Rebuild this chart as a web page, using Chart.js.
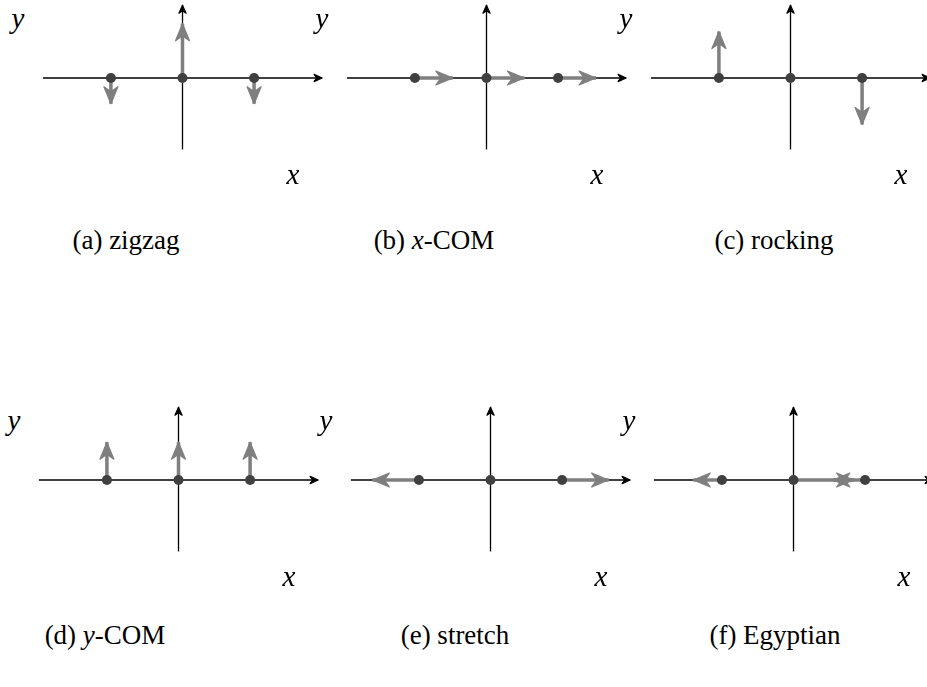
<!DOCTYPE html>
<html>
<head>
<meta charset="utf-8">
<script src="https://cdn.jsdelivr.net/npm/chart.js@4"></script>
<style>
  html, body { margin: 0; padding: 0; background: #fff; }
  body { width: 927px; height: 687px; position: relative; overflow: hidden; font-family: "Liberation Serif", serif; }
  canvas { position: absolute; }
  .lbl { position: absolute; font-style: italic; font-size: 29px; color: #000; transform: translate(-50%, -50%); line-height: 1; }
  .cap { position: absolute; font-size: 27px; color: #000; transform: translate(-50%, -50%); white-space: nowrap; line-height: 1; }
</style>
</head>
<body>
<script>
// masses sit at x = -1, 0, 1 on every panel
const dotX = [-1, 0, 1];
const axisX = [-1.95, 1.95];
const axisY = [-1.0, 1.02];

// displacement of each mass (dx, dy); null = no arrow
const zigzagDx   = [0, 0, 0];
const zigzagDy   = [-0.36, 0.76, -0.36];
const xcomDx     = [0.53, 0.53, 0.53];
const xcomDy     = [0, 0, 0];
const rockingDx  = [0, null, 0];
const rockingDy  = [0.65, null, -0.65];
const ycomDx     = [0, 0, 0];
const ycomDy     = [0.53, 0.53, 0.53];
const stretchDx  = [-0.65, null, 0.65];
const stretchDy  = [0, null, 0];
const egyptDx    = [-0.4, 0.84, -0.45];
const egyptDy    = [0, 0, 0];

const captions = ['(a) zigzag', '(b) <i>x</i>-COM', '(c) rocking', '(d) <i>y</i>-COM', '(e) stretch', '(f) Egyptian'];

const panels = [
  { dx: zigzagDx, dy: zigzagDy },
  { dx: xcomDx, dy: xcomDy },
  { dx: rockingDx, dy: rockingDy },
  { dx: ycomDx, dy: ycomDy },
  { dx: stretchDx, dy: stretchDy },
  { dx: egyptDx, dy: egyptDy }
];

// layout (pixels)
const origins = [[182, 78], [486, 78], [790, 78], [178, 480], [490, 480], [793, 480]];
const capPos = [[126, 240], [434, 240], [774, 240], [105, 635], [455, 635], [775, 635]];
const W = 315, H = 160, XR = 2.2, YR = 1.12;

const GRAY = '#7f7f7f', DOT = '#404040';

function head(ctx, from, to, L, hw, notch, color) {
  const ang = Math.atan2(to.y - from.y, to.x - from.x);
  ctx.save();
  ctx.translate(to.x, to.y);
  ctx.rotate(ang);
  ctx.beginPath();
  ctx.moveTo(0, 0);
  ctx.lineTo(-L, hw);
  ctx.lineTo(-L + notch, 0);
  ctx.lineTo(-L, -hw);
  ctx.closePath();
  ctx.fillStyle = color;
  ctx.strokeStyle = color;
  ctx.lineJoin = 'round';
  ctx.lineWidth = 1.2;
  ctx.fill();
  ctx.stroke();
  ctx.restore();
}

const arrowHeads = {
  id: 'arrowHeads',
  afterDatasetDraw(chart, args) {
    const ds = chart.data.datasets[args.index];
    if (!ds.head) return;
    const pts = args.meta.data;
    const a = pts[pts.length - 2], b = pts[pts.length - 1];
    if (ds.head === 'axis') head(chart.ctx, a, b, 8, 3.6, 2.5, '#000');
    else head(chart.ctx, a, b, 17, 7, 5, GRAY);
  }
};

panels.forEach((p, k) => {
  const [ox, oy] = origins[k];
  const cv = document.createElement('canvas');
  cv.width = W; cv.height = H;
  cv.style.left = (ox - W / 2) + 'px';
  cv.style.top = (oy - H / 2) + 'px';
  document.body.appendChild(cv);

  const datasets = [];
  datasets.push({
    data: dotX.map(x => ({ x, y: 0 })),
    pointRadius: 5, pointBackgroundColor: DOT, pointBorderWidth: 0, showLine: false
  });
  dotX.forEach((x, i) => {
    if (p.dx[i] === null) return;
    datasets.push({
      data: [{ x, y: 0 }, { x: x + p.dx[i], y: p.dy[i] }],
      showLine: true, borderColor: GRAY, borderWidth: 3.5, pointRadius: 0,
      borderCapStyle: 'butt', head: 'gray'
    });
  });
  datasets.push({
    data: [{ x: axisX[0], y: 0 }, { x: axisX[1], y: 0 }],
    showLine: true, borderColor: '#000', borderWidth: 1.3, pointRadius: 0, head: 'axis'
  });
  datasets.push({
    data: [{ x: 0, y: axisY[0] }, { x: 0, y: axisY[1] }],
    showLine: true, borderColor: '#000', borderWidth: 1.3, pointRadius: 0, head: 'axis'
  });

  new Chart(cv.getContext('2d'), {
    type: 'scatter',
    data: { datasets },
    options: {
      responsive: false,
      animation: false,
      devicePixelRatio: 1,
      layout: { padding: 0, autoPadding: false },
      plugins: { legend: { display: false }, tooltip: { enabled: false } },
      scales: {
        x: { type: 'linear', min: -XR, max: XR, display: false },
        y: { type: 'linear', min: -YR, max: YR, display: false }
      }
    },
    plugins: [arrowHeads]
  });

  const ylab = document.createElement('div');
  ylab.className = 'lbl'; ylab.textContent = 'y';
  ylab.style.left = (ox - 164) + 'px'; ylab.style.top = (oy - 60) + 'px';
  document.body.appendChild(ylab);
  const xlab = document.createElement('div');
  xlab.className = 'lbl'; xlab.textContent = 'x';
  xlab.style.left = (ox + 111) + 'px'; xlab.style.top = (oy + 96) + 'px';
  document.body.appendChild(xlab);
  const cap = document.createElement('div');
  cap.className = 'cap'; cap.innerHTML = captions[k];
  cap.style.left = capPos[k][0] + 'px'; cap.style.top = capPos[k][1] + 'px';
  document.body.appendChild(cap);
});
</script>
</body>
</html>
